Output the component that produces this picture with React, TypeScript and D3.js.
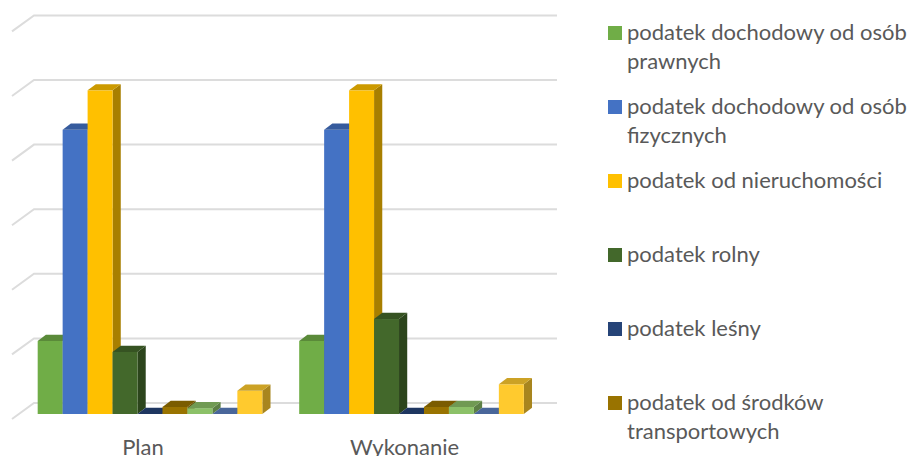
import * as d3 from 'd3'

const WIDTH = 913
const HEIGHT = 456

const categories = ['Plan', 'Wykonanie']
const seriesKeys = ['s1', 's2', 's3', 's4', 's5', 's6', 's7', 's8', 's9']
const seriesColors = ['#70AD47', '#4472C4', '#FFC000', '#43682B', '#264478', '#997300', '#8CC168', '#5B7FC0', '#FFCA2E']
const planValues = [1.13, 4.4, 5.01, 0.96, 0, 0.11, 0.09, 0, 0.36]
const wykonanieValues = [1.13, 4.4, 5.01, 1.47, 0, 0.11, 0.11, 0, 0.46]
const legendLabels = [
  ['podatek dochodowy od osób', 'prawnych'],
  ['podatek dochodowy od osób', 'fizycznych'],
  ['podatek od nieruchomości'],
  ['podatek rolny'],
  ['podatek leśny'],
  ['podatek od środków', 'transportowych'],
]

const FONT = 'Lato, "Open Sans", sans-serif'
const FONT_SIZE = 22
const TEXT_COLOR = '#595959'
const GRID_COLOR = '#DCDCDC'

// wall depth of the 3D plot and depth of a single bar
const WALL = { dx: 22, dy: 11, tickDy: 16 }
const BAR = { dx: 8.2, dy: 6.2 }

const xGroup = d3.scaleBand().domain(categories).range([19.25, 542.25]).paddingInner(0.141).paddingOuter(0.0705)
const xBar = d3.scaleBand().domain(seriesKeys).range([0, xGroup.bandwidth()])
const y = d3.scaleLinear().domain([0, 6]).range([414, 26.4])
const legendY = d3.scaleLinear().domain([0, 5]).range([33, 403])

function shade(color: string, k: number) {
  const c = d3.rgb(color)
  return d3.rgb(c.r * k, c.g * k, c.b * k).formatHex()
}

function Bar({ x, w, v, color }: { x: number; w: number; v: number; color: string }) {
  const top = y(v)
  const base = y(0)
  const path = (pts: [number, number][]) => d3.line()(pts) + 'Z'
  return (
    <g>
      <path
        d={path([[x + w, top], [x + w + BAR.dx, top - BAR.dy], [x + w + BAR.dx, base - BAR.dy], [x + w, base]])}
        fill={shade(color, 0.66)}
      />
      <rect x={x} y={top} width={w} height={base - top} fill={color} />
      <path
        d={path([[x, top], [x + BAR.dx, top - BAR.dy], [x + w + BAR.dx, top - BAR.dy], [x + w, top]])}
        fill={shade(color, 0.8)}
      />
    </g>
  )
}

export default function App() {
  const rows = [planValues, wykonanieValues]
  return (
    <svg
      width={WIDTH}
      height={HEIGHT}
      viewBox={`0 0 ${WIDTH} ${HEIGHT}`}
      style={{ position: 'absolute', left: 0, top: 0, display: 'block', background: '#fff' }}
    >
      {y.ticks(6).map(t => {
        const gy = y(t) - WALL.dy
        return (
          <path
            key={t}
            d={`M12,${gy + WALL.tickDy}L${12 + WALL.dx},${gy}L557,${gy}`}
            fill="none"
            stroke={GRID_COLOR}
            strokeWidth={2}
          />
        )
      })}

      {categories.map((cat, i) => (
        <g key={cat}>
          {seriesKeys.map((key, j) => (
            <Bar
              key={key}
              x={(xGroup(cat) as number) + (xBar(key) as number)}
              w={xBar.bandwidth()}
              v={rows[i][j]}
              color={seriesColors[j]}
            />
          ))}
          <text
            x={(xGroup(cat) as number) + xGroup.bandwidth() / 2 - 7}
            y={455}
            textAnchor="middle"
            fontFamily={FONT}
            fontSize={FONT_SIZE}
            fill={TEXT_COLOR}
          >
            {cat}
          </text>
        </g>
      ))}

      {legendLabels.map((lines, i) => (
        <g key={lines[0]}>
          <rect x={608} y={legendY(i) - 7} width={14} height={14} fill={seriesColors[i]} />
          {lines.map((line, k) => (
            <text
              key={line}
              x={627}
              y={legendY(i) + 6.5 + k * 29}
              fontFamily={FONT}
              fontSize={FONT_SIZE}
              fill={TEXT_COLOR}
            >
              {line}
            </text>
          ))}
        </g>
      ))}
    </svg>
  )
}
